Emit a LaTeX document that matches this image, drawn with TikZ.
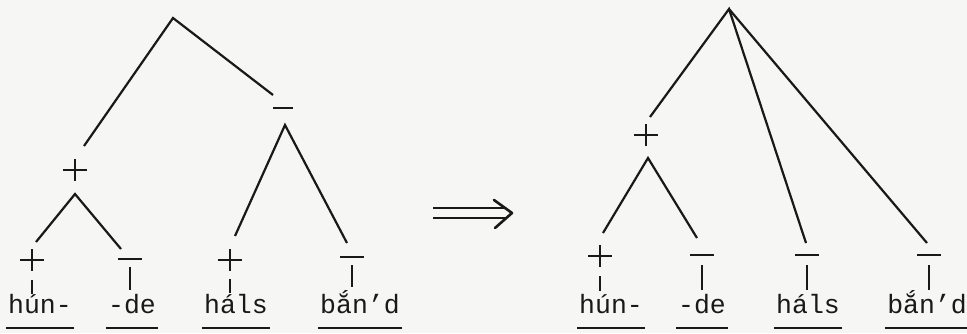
\documentclass[tikz,border=0pt]{standalone}
\usepackage{fontspec}
\setmonofont{Liberation Mono}
\definecolor{paper}{RGB}{246,246,244}
\definecolor{ink}{RGB}{25,25,25}
\tikzset{
  branch/.style={draw=ink,line width=2.2pt},
  word/.style={font=\ttfamily\fontsize{26.5}{28}\selectfont,text=ink,anchor=base,inner sep=2pt},
  uline/.style={draw=ink,line width=1.6pt},
  plusmark/.pic={\draw[ink,line width=2.2pt] (-12,0)--(12,0) (0,-11)--(0,11);},
  barmark/.pic={\draw[ink,line width=2.2pt] (-12,0)--(12,0);}
}
\begin{document}
\begin{tikzpicture}[x=1pt,y=-1pt]
\fill[paper] (0,0) rectangle (967,333);
\useasboundingbox (0,0) rectangle (967,333);

% ---------- left tree ----------
\coordinate (r1) at (173,18);
\coordinate (p1top) at (84,146);
\coordinate (m1top) at (273,95);
\pic at (75,170) {plusmark};
\draw[ink,line width=2.2pt] (273,108)--(293,108);
\coordinate (p1) at (75,194);
\coordinate (m1) at (285,125);
\coordinate (p1l) at (36,242);
\coordinate (p1r) at (121,249);
\coordinate (m1l) at (235,236);
\coordinate (m1r) at (347,243);
\draw[branch] (p1top) -- (r1) -- (m1top);
\draw[branch] (p1l) -- (p1) -- (p1r);
\draw[branch] (m1l) -- (m1) -- (m1r);

% leaves left
\pic at (32,260) {plusmark};
\draw[branch] (32,280) -- (32,294);
\pic at (130,259) {barmark};
\draw[branch] (130,267) -- (130,290);
\pic at (230,260) {plusmark};
\draw[branch] (230,279) -- (230,293);
\pic at (352,257) {barmark};
\draw[branch] (352,265) -- (352,287);

\node[word] (w1) at (40,313) {hún-};
\node[word] (w2) at (132,313) {-de};
\node[word] (w3) at (236,313) {háls};
\node[word] (w4) at (360,313) {bắn’d};

% arrow
\coordinate (a1) at (433,208);
\coordinate (a2) at (433,218);
\coordinate (a3) at (506,208);
\coordinate (a4) at (506,218);
\draw[ink,line width=2.2pt] (a1) -- (a3) (a2) -- (a4);
\draw[ink,line width=2.6pt,line cap=round,line join=round] (494,200) -- (512,213) -- (495,228);

% ---------- right tree ----------
\coordinate (r2) at (729,9);
\coordinate (p2top) at (650,117);
\pic at (646,135) {plusmark};
\coordinate (p2) at (648,158);
\coordinate (p2l) at (603,233);
\coordinate (p2r) at (697,238);
\coordinate (r2a) at (806,243);
\coordinate (r2b) at (927,243);
\draw[branch] (p2top) -- (r2) -- (r2a);
\draw[branch] (r2) -- (r2b);
\draw[branch] (p2l) -- (p2) -- (p2r);

\pic at (600,256) {plusmark};
\draw[branch] (600,276) -- (600,291);
\pic at (702,255) {barmark};
\draw[branch] (702,265) -- (702,290);
\pic at (807,255) {barmark};
\draw[branch] (807,265) -- (807,290);
\pic at (929,255) {barmark};
\draw[branch] (929,265) -- (929,290);

\node[word] (w5) at (611,313) {hún-};
\node[word] (w6) at (702,313) {-de};
\node[word] (w7) at (808,313) {háls};
\node[word] (w8) at (927,313) {bắn’d};

\foreach \w in {w1,w2,w3,w4,w5,w6,w7,w8}{
  \draw[uline] ([yshift=-15pt]\w.base west) -- ([yshift=-15pt]\w.base east);
}
\end{tikzpicture}
\end{document}
